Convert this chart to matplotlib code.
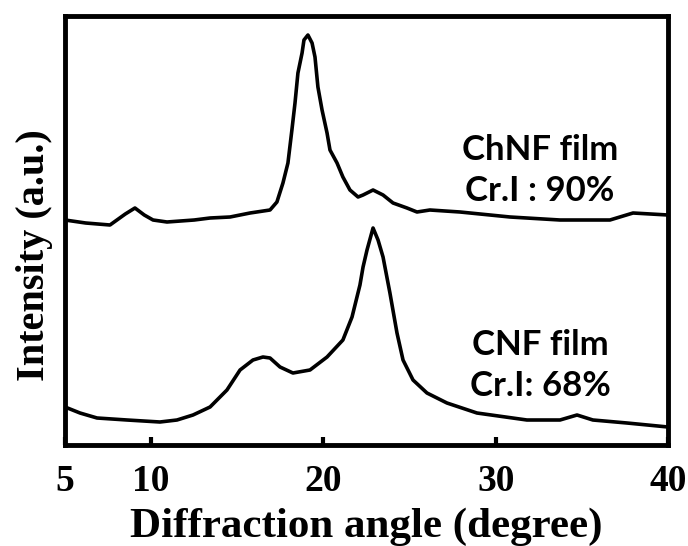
import numpy as np
import matplotlib
matplotlib.use('Agg')
import matplotlib.pyplot as plt

# values (angle in degree, intensity in a.u.)
chnf_angle = [5.00, 6.20, 7.61, 8.50, 9.06, 9.60, 10.11, 10.92, 12.50, 13.42, 14.58,
              15.74, 16.90, 17.30, 17.65, 17.94, 18.17, 18.35, 18.52, 18.76, 18.87,
              19.10, 19.34, 19.51, 19.68, 19.92, 20.21, 20.38, 20.79, 21.13, 21.54,
              22.01, 22.30, 22.88, 23.46, 24.04, 24.85, 25.43, 26.18, 27.93, 30.83,
              33.73, 36.63, 37.97, 40.00]
chnf_int = [225, 222, 220, 231, 237, 230, 225, 223, 225, 227, 228,
            232, 235, 243, 262, 282, 315, 342, 372, 392, 405,
            410, 402, 388, 358, 335, 312, 295, 282, 268, 255,
            248, 250, 255, 250, 242, 237, 233, 235, 233, 228,
            225, 225, 232, 230]

cnf_angle = [5.00, 5.87, 6.86, 8.60, 10.51, 11.50, 12.43, 13.42, 14.40, 15.16, 15.91,
             16.49, 16.90, 17.48, 18.23, 19.22, 20.21, 21.13, 21.66, 22.12, 22.30,
             22.53, 22.88, 23.17, 23.46, 23.86, 24.27, 24.62, 25.20, 26.01, 27.17,
             28.91, 31.81, 33.73, 34.72, 35.64, 37.62, 40.00]
cnf_int = [38, 32, 27, 25, 23, 25, 30, 38, 55, 75, 85,
           88, 87, 78, 72, 75, 88, 105, 128, 160, 178,
           195, 217, 205, 188, 152, 112, 85, 65, 52, 42,
           32, 25, 25, 30, 25, 22, 18]

xticks = [5, 10, 20, 30, 40]
xticklabels = ['5', '10', '20', '30', '40']

serif = 'Liberation Serif'
sans = 'Lato'

fig = plt.figure(figsize=(6.88, 5.46), dpi=100)
ax = fig.add_axes([65/688, 1-445/546, 603/688, 429/546])

ax.plot(chnf_angle, chnf_int, color='black', lw=2.6)
ax.plot(cnf_angle, cnf_int, color='black', lw=2.6)

ax.set_xlim(5, 40)
ax.set_ylim(0, 429)
ax.set_yticks([])
ax.set_xticks(xticks)
ax.set_xticklabels(xticklabels, fontfamily=serif, fontweight='bold', fontsize=27)
ax.tick_params(axis='x', direction='in', length=6, width=3, pad=14)
for s in ax.spines.values():
    s.set_linewidth(3.5)

ax.set_xlabel('Diffraction angle (degree)', fontfamily=serif, fontweight='bold',
              fontsize=31, labelpad=6)
ax.set_ylabel('Intensity (a.u.)', fontfamily=serif, fontweight='bold', fontsize=29)
ax.yaxis.set_label_coords(-0.02, 0.443)

ax.text(0.788, 0.688, 'ChNF film', transform=ax.transAxes, ha='center', va='center',
        fontfamily=sans, fontweight='bold', fontsize=25)
ax.text(0.788, 0.592, 'Cr.I : 90%', transform=ax.transAxes, ha='center', va='center',
        fontfamily=sans, fontweight='bold', fontsize=25)
ax.text(0.788, 0.233, 'CNF film', transform=ax.transAxes, ha='center', va='center',
        fontfamily=sans, fontweight='bold', fontsize=25)
ax.text(0.788, 0.137, 'Cr.I: 68%', transform=ax.transAxes, ha='center', va='center',
        fontfamily=sans, fontweight='bold', fontsize=25)

fig.savefig('out.png', dpi=100)
